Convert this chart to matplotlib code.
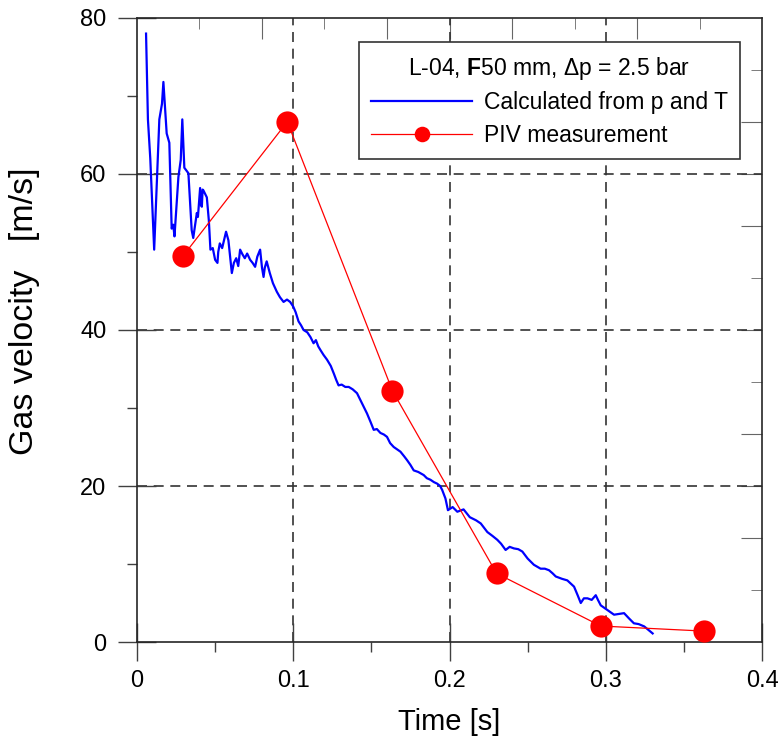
import numpy as np
import matplotlib
matplotlib.use("Agg")
import matplotlib.pyplot as plt

plt.rcParams["font.family"] = ["Liberation Sans", "DejaVu Sans"]
plt.rcParams["mathtext.fontset"] = "custom"
plt.rcParams["mathtext.rm"] = "Liberation Sans"
plt.rcParams["mathtext.bf"] = "Liberation Sans:bold"

# calculated gas velocity from p and T
calc_t = [0.0058, 0.0070, 0.0085, 0.0110, 0.0143, 0.0160, 0.0169, 0.0190, 0.0207, 0.0222,
          0.0232, 0.0240, 0.0265, 0.0280, 0.0290, 0.0303, 0.0329, 0.0350, 0.0360, 0.0383,
          0.0390, 0.0404, 0.0410, 0.0415, 0.0420, 0.0425, 0.0447, 0.0460, 0.0470, 0.0485,
          0.0500, 0.0515, 0.0520, 0.0530, 0.0545, 0.0570, 0.0585, 0.0607, 0.0620, 0.0635,
          0.0648, 0.0660, 0.0675, 0.0690, 0.0705, 0.0724, 0.0740, 0.0756, 0.0770, 0.0788,
          0.0800, 0.0810, 0.0818, 0.0830, 0.0850, 0.0870, 0.0895, 0.0915, 0.0938, 0.0960,
          0.0980, 0.1000, 0.1015, 0.1034, 0.1050, 0.1066, 0.1090, 0.1110, 0.1130, 0.1145,
          0.1160, 0.1175, 0.1194, 0.1216, 0.1240, 0.1260, 0.1275, 0.1290, 0.1310, 0.1333,
          0.1355, 0.1380, 0.1408, 0.1430, 0.1450, 0.1472, 0.1495, 0.1515, 0.1535, 0.1558,
          0.1580, 0.1600, 0.1620, 0.1643, 0.1665, 0.1686, 0.1710, 0.1729, 0.1750, 0.1771,
          0.1800, 0.1835, 0.1855, 0.1878, 0.1900, 0.1921, 0.1940, 0.1953, 0.1974, 0.1990,
          0.2020, 0.2050, 0.2090, 0.2130, 0.2170, 0.2200, 0.2242, 0.2275, 0.2306, 0.2330,
          0.2359, 0.2385, 0.2412, 0.2440, 0.2466, 0.2500, 0.2540, 0.2583, 0.2610, 0.2637,
          0.2660, 0.2680, 0.2720, 0.2754, 0.2775, 0.2797, 0.2820, 0.2840, 0.2860, 0.2883,
          0.2910, 0.2936, 0.2950, 0.2968, 0.3011, 0.3053, 0.3085, 0.3117, 0.3150, 0.3180,
          0.3210, 0.3246, 0.3270, 0.3300]
calc_v = [78.0, 67.0, 62.0, 50.3, 67.0, 69.0, 71.8, 65.2, 64.0, 53.0,
          53.5, 52.0, 59.6, 61.8, 67.0, 60.8, 60.1, 52.8, 51.8, 55.0,
          54.5, 58.2, 56.0, 55.8, 58.0, 57.9, 57.0, 54.0, 50.3, 50.5,
          49.0, 48.6, 50.0, 51.1, 50.5, 52.6, 51.5, 47.3, 48.6, 49.2,
          48.2, 50.3, 49.7, 49.2, 49.8, 49.0, 48.6, 48.1, 49.4, 50.3,
          48.0, 46.8, 48.0, 48.8, 47.3, 46.0, 44.9, 44.2, 43.6, 43.9,
          43.6, 43.0, 42.3, 41.1, 40.6, 40.0, 39.7, 39.1, 38.3, 38.7,
          37.9, 37.4, 36.8, 36.2, 35.4, 34.4, 33.6, 32.9, 33.0, 32.7,
          32.7, 32.4, 31.9, 31.0, 30.2, 29.3, 28.2, 27.2, 27.3, 26.8,
          26.6, 26.3, 25.5, 25.0, 24.7, 24.4, 23.8, 23.3, 22.7, 22.0,
          21.8, 21.4, 21.0, 20.8, 20.5, 20.3, 20.0, 19.5, 18.4, 16.9,
          17.3, 16.7, 17.0, 16.0, 15.6, 15.2, 14.1, 13.6, 13.1, 12.6,
          11.8, 12.2, 12.0, 11.9, 11.6, 10.7, 9.9, 9.4, 9.4, 9.2,
          8.8, 8.4, 8.1, 7.9, 7.5, 7.1, 6.0, 5.0, 5.6, 5.6,
          5.4, 6.0, 5.4, 4.7, 4.1, 3.5, 3.6, 3.7, 3.0, 2.4,
          2.3, 2.0, 1.6, 1.1]

# PIV measurement
piv_t = [0.0295, 0.0962, 0.1635, 0.2301, 0.2968, 0.3628]
piv_v = [49.5, 66.7, 32.2, 8.8, 2.05, 1.4]

x_ticks = [0, 0.1, 0.2, 0.3, 0.4]
x_tick_labels = ["0", "0.1", "0.2", "0.3", "0.4"]
y_ticks = [0, 20, 40, 60, 80]

fig = plt.figure(figsize=(7.81, 7.46), dpi=100)
ax = fig.add_axes([0.1754, 0.1394, 0.8003, 0.8365])

ax.plot(calc_t, calc_v, color="#0000ff", lw=1.6, label="Calculated from p and T", zorder=3)
ax.plot(piv_t, piv_v, color="#ff0000", lw=0.9, marker="o", ms=16, mec="none",
        label="PIV measurement", zorder=4)

ax.set_xlim(0, 0.4)
ax.set_ylim(0, 80)
ax.set_xticks(x_ticks)
ax.set_xticklabels(x_tick_labels)
ax.set_yticks(y_ticks)
ax.set_xticks([0.05, 0.15, 0.25, 0.35], minor=True)
ax.set_yticks([10, 30, 50, 70], minor=True)
ax.tick_params(which="major", direction="inout", length=28, width=1, labelsize=17,
               color="0.25")
ax.tick_params(axis="x", which="major", pad=6)
ax.tick_params(axis="y", which="major", pad=8)
ax.tick_params(which="minor", direction="out", length=7, width=1, color="0.25")

for v in [0.1, 0.2, 0.3]:
    ax.axvline(v, color="0.2", lw=1.2, ls=(0, (6, 4)), zorder=1)
for v in [20, 40, 60]:
    ax.axhline(v, color="0.2", lw=1.2, ls=(0, (6, 4)), zorder=1)

for s in ax.spines.values():
    s.set_linewidth(1.2)
    s.set_color("0.15")

# secondary tick marks on top and right edges
top = ax.secondary_xaxis("top")
top.set_xticks([0.08, 0.16, 0.20, 0.24, 0.32])
top.set_xticks([0.04, 0.12, 0.28, 0.36], minor=True)
top.tick_params(which="major", direction="in", length=15, color="0.4", labeltop=False)
top.tick_params(which="minor", direction="in", length=8, color="0.4")
top.spines["top"].set_visible(False)

right = ax.secondary_yaxis("right")
right.set_yticks([13.33, 20, 26.67, 40, 53.33, 60, 66.67])
right.set_yticks([6.67, 33.33, 46.67, 73.33], minor=True)
right.tick_params(which="major", direction="in", length=15, color="0.4", labelright=False)
right.tick_params(which="minor", direction="in", length=8, color="0.4")
right.spines["right"].set_visible(False)

ax.set_xlabel("Time [s]", fontsize=21, labelpad=12)
ax.set_ylabel("Gas velocity   [m/s]", fontsize=24.5)
ax.yaxis.set_label_coords(-0.155, 0.53)

leg = ax.legend(loc="upper right", bbox_to_anchor=(0.965, 0.9615), borderaxespad=0,
                fontsize=16.5, title=r"L-04, $\mathbf{F}$50 mm, $\Delta$p = 2.5 bar",
                title_fontsize=16.5, fancybox=False, framealpha=1, edgecolor="0.2",
                handlelength=4.4, handletextpad=0.5, labelspacing=0.42,
                markerscale=0.7, borderpad=0.55)
leg.get_frame().set_linewidth(1.2)

fig.savefig("out.png", dpi=100)
